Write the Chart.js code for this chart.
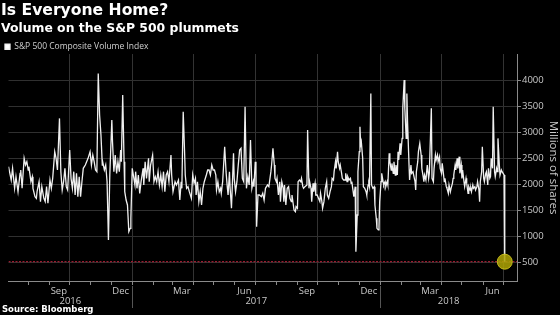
<!DOCTYPE html>
<html><head><meta charset="utf-8">
<script src="https://cdn.jsdelivr.net/npm/chart.js@4.4.1/dist/chart.umd.min.js"></script>
<style>
html,body{margin:0;padding:0;background:#000;}
#wrap{position:relative;width:560px;height:315px;background:#000;overflow:hidden;}
#c{position:absolute;left:0;top:0;}
.t{position:absolute;left:1px;color:#fff;font-family:"DejaVu Sans",sans-serif;font-weight:bold;white-space:nowrap;line-height:1;}
#title{top:3px;font-size:15.6px;}
#sub{top:21.5px;font-size:12.4px;}
#src{top:305px;left:2px;font-size:8.5px;}
</style></head><body>
<div id="wrap">
<canvas id="c" width="560" height="315"></canvas>
<div id="title" class="t">Is Everyone Home?</div>
<div id="sub" class="t">Volume on the S&amp;P 500 plummets</div>
<div id="src" class="t">Source: Bloomberg</div>
</div>
<script>
// day numbers are days since baseDate
const baseDate = '2016-07-01';
const seriesName = 'S&P 500 Composite Volume Index';
const days = [2,6,8,11,13,16,19,20,22,25,27,29,31,32,35,37,38,41,43,44,47,49,51,54,56,58,60,63,65,67,70,72,74,77,79,81,83,85,87,89,92,94,96,98,100,102,104,106,108,110,112,115,119,122,124,126,
128,130,132,134,136,138,140,141,143,145,147,149,151,154,155,157,159,161,163,165,167,168,170,172,173,175,177,179,181,182,184,186,188,189,191,193,195,197,200,201,203,205,208,209,211,214,216,218,220,222,224,226,228,230,232,234,236,238,241,242,244,247,249,
251,252,254,256,257,259,261,262,264,266,268,271,273,275,277,278,280,282,284,286,288,290,293,295,297,299,301,303,305,307,308,310,312,314,315,317,320,322,324,325,327,328,330,333,334,336,338,340,342,344,346,348,350,352,354,356,358,360,362,363,365,366,367,369,371,374,
376,378,380,383,385,388,389,391,393,394,396,397,399,401,402,404,406,407,408,410,412,414,416,418,419,421,422,424,425,427,428,430,432,433,435,436,438,441,442,444,445,447,448,450,451,453,454,456,458,460,461,463,464,466,468,470,471,473,475,477,478,480,481,483,484,486,487,489,490,492,493,495,497,
498,500,501,503,505,506,507,509,510,512,513,515,516,518,519,520,521,523,524,526,528,529,531,532,533,535,536,538,540,541,543,544,546,547,548,550,551,553,554,556,557,559,560,562,563,565,566,568,569,571,572,574,575,576,578,579,581,582,584,585,587,588,589,591,592,594,595,597,598,600,601,602,604,605,607,609,610,612,613,614,616,
618,620,621,624,625,627,628,630,631,633,634,636,637,639,640,642,643,644,646,647,649,650,652,653,655,656,657,659,660,662,663,665,666,668,669,670,672,673,675,676,678,679,681,682,683,685,686,688,689,691,692,694,695,696,698,699,701,702,704,705,707,708,710,711,712,714,715,717,718,720,721,722,724,725,727,728,731,732];
const volume = [2341,2085,2309,1926,2149,1862,2213,2277,1926,2500,2373,2436,2277,2341,2053,2149,1926,1766,1734,1862,2053,1671,1958,1734,1671,1958,1639,2085,1926,2117,2628,2500,2277,3266,2245,1894,2053,2309,1958,1894,2660,2117,1926,2245,1798,2213,1766,2149,1766,2053,2309,2373,2500,2628,2373,2564,
2436,2277,2245,4128,3330,2947,2373,2404,2277,2373,2053,936,2181,3234,2819,2245,2564,2213,2436,2245,2660,2436,3713,2436,1862,1702,1607,1096,1160,1351,2309,2149,1990,2245,1926,2181,1830,2053,2309,1990,2436,2117,2500,2053,2373,2564,2053,2149,2053,2245,1990,2181,1958,2245,1862,2181,2245,2053,2564,2181,1862,2053,1990,
2053,2085,1702,2053,1926,3394,2628,2181,1926,1958,1862,1734,2181,2022,2117,1798,2053,1671,1862,1607,1926,2053,2181,2277,2277,2181,2373,2277,2277,2181,1894,2053,1862,1926,1830,2053,2724,2245,1926,1798,2245,1926,1543,2596,2117,1862,2053,2373,2660,2692,2117,2053,3490,1926,2149,1990,2851,1926,2053,1958,2436,2245,1192,1798,1798,1766,
1830,1702,1926,1990,1958,2245,2373,2692,2373,2117,2053,2117,1798,2053,1671,2053,1926,1671,1990,1607,1926,1958,1734,1671,1798,1607,1511,1479,1575,1543,2053,2085,2053,2117,1958,1926,1958,1990,3043,1926,2053,1926,1671,2022,1862,2022,1798,1798,1734,1671,1830,1671,1543,1671,1926,2053,1798,1734,1862,1958,2117,2085,2245,2436,2309,2628,2436,2309,2373,2213,2117,2085,2085,
2213,2053,2149,2085,2117,2022,2053,1862,1766,1958,713,1415,2245,2628,3107,2756,2819,2500,1958,1926,1862,1798,1990,2022,1958,3745,1990,1926,1958,1607,1351,1160,1128,1192,1671,2053,2213,2053,1990,2053,1958,2053,1990,2596,2436,2277,2404,2213,2436,2181,2373,2181,2628,2468,2787,2564,2883,3458,4000,3458,2883,3745,3202,2436,2085,2373,2213,2245,2181,2053,1894,2245,2436,2628,2787,2564,2309,2149,2053,2181,2085,
2373,2117,2213,3458,2117,2053,2309,2564,2468,2564,2436,2532,2309,2213,2404,2181,2053,2117,1958,1926,1830,1990,1862,1926,2022,2117,2181,2373,2277,2500,2309,2532,2213,2373,2117,2277,2053,1958,2117,2022,1830,1958,1894,1926,1862,1990,1926,1958,1894,1958,2053,1894,1671,2053,2245,2724,2117,2053,2213,2245,1990,2309,2117,2149,2500,2309,3490,2245,2149,2309,2245,2883,2373,2181,2277,2245,2181,520];
const yTicks = [500,1000,1500,2000,2500,3000,3500,4000];
const monthLabels = ['Sep','Dec','Mar','Jun','Sep','Dec','Mar','Jun'];
const monthLabelDates = ['2016-09-15','2016-12-15','2017-03-15','2017-06-15','2017-09-15','2017-12-15','2018-03-15','2018-06-15'];
const yearLabels = ['2016','2017','2018'];
const xRange = ['2016-07-03','2018-07-21'];
const yRange = [150,4500];

const dayOf = s => Math.round((Date.parse(s) - Date.parse(baseDate)) / 86400000);
const xMin = dayOf(xRange[0]), xMax = dayOf(xRange[1]);

const monthStarts = [], quarterStarts = new Set(), yearStarts = [];
for (let y = 2016; y <= 2018; y++) {
  for (let m = 1; m <= 12; m++) {
    const s = y + '-' + String(m).padStart(2,'0') + '-01';
    const d = dayOf(s);
    if (d <= xMin || d >= xMax) continue;
    monthStarts.push(d);
    if ((m - 1) % 3 === 0) quarterStarts.add(d);
    if (m === 1) yearStarts.push(d);
  }
}
const labelByDay = new Map(monthLabelDates.map((s,i) => [dayOf(s), monthLabels[i]]));
const xTickValues = monthStarts.concat([...labelByDay.keys()]).sort((a,b)=>a-b);

const yearByDay = new Map();
yearLabels.forEach(yl => {
  const a = Math.max(xMin, dayOf(yl + '-01-01'));
  const b = Math.min(xMax, dayOf((+yl + 1) + '-01-01'));
  yearByDay.set((a + b) / 2, yl);
});

const lastIdx = volume.length - 1;
const lastPoint = {x: days[lastIdx], y: volume[lastIdx]};

const sepPlugin = {
  id: 'yearSep',
  afterDraw(chart) {
    const x = chart.scales.x, x2 = chart.scales.x2, ctx = chart.ctx;
    ctx.save();
    ctx.strokeStyle = '#555';
    ctx.lineWidth = 1;
    yearStarts.forEach(d => {
      const px = Math.round(x.getPixelForValue(d)) + 0.5;
      ctx.beginPath();
      ctx.moveTo(px, x.top + 5);
      ctx.lineTo(px, x2.bottom);
      ctx.stroke();
    });
    ctx.restore();
  }
};

Chart.defaults.font.family = 'Open Sans';
new Chart(document.getElementById('c'), {
  type: 'line',
  data: {
    datasets: [
      {label: seriesName, data: days.map((d,i)=>({x:d, y:volume[i]})), borderColor:'#f0f0f0', backgroundColor:'#ffffff',
       borderWidth:1.3, pointRadius:0, tension:0, order:1},
      {label:'level', data:[{x:xMin, y:lastPoint.y},{x:xMax, y:lastPoint.y}], borderColor:'#9a1c30', borderWidth:1.2,
       borderDash:[2,1.5], pointRadius:0, order:2},
      {label:'marker', data:[lastPoint], showLine:false, pointRadius:7.5, pointBackgroundColor:'rgba(175,165,5,0.85)',
       pointBorderColor:'rgba(205,195,30,0.9)', pointBorderWidth:1, order:0}
    ]
  },
  options: {
    responsive:false, animation:false,
    layout:{padding:{top:37.5, right:0, bottom:7, left:0}},
    plugins:{
      legend:{display:true, position:'top', align:'start', maxHeight:16.5,
        labels:{boxWidth:5, boxHeight:5, padding:5, color:'#d0d0d0', font:{family:'Open Sans', size:8.5},
          filter: item => item.datasetIndex === 0}},
      tooltip:{enabled:false}
    },
    scales:{
      x:{type:'linear', position:'bottom', min:xMin, max:xMax,
        afterBuildTicks: s => { s.ticks = xTickValues.map(v=>({value:v})); },
        afterFit: s => { s.height = 15; },
        ticks:{autoSkip:false, maxRotation:0, minRotation:0, padding:1, color:'#c8c8c8', font:{size:9.5},
          callback: v => labelByDay.get(v) || ''},
        grid:{color: c => (c.tick && quarterStarts.has(c.tick.value)) ? '#333333' : 'rgba(0,0,0,0)',
          tickColor: c => (c.tick && labelByDay.has(c.tick.value)) ? 'rgba(0,0,0,0)' : '#8a8a8a',
          tickLength:4, lineWidth:1},
        border:{color:'#8a8a8a'}
      },
      x2:{type:'linear', position:'bottom', min:xMin, max:xMax,
        afterBuildTicks: s => { s.ticks = [...yearByDay.keys()].map(v=>({value:v})); },
        afterFit: s => { s.height = 12; },
        ticks:{autoSkip:false, maxRotation:0, minRotation:0, padding:0, color:'#c8c8c8', font:{size:9.5},
          callback: v => yearByDay.get(v) || ''},
        grid:{display:false, drawTicks:false},
        border:{display:false}
      },
      y:{type:'linear', position:'right', min:yRange[0], max:yRange[1],
        afterBuildTicks: s => { s.ticks = yTicks.map(v=>({value:v})); },
        afterFit: s => { s.width = 43; },
        ticks:{color:'#c8c8c8', font:{size:9.5}, padding:1, callback: v => String(v)},
        grid:{color:'#303030', tickColor:'#8a8a8a', tickLength:4},
        border:{color:'#8a8a8a'},
        title:{display:true, text:'Millions of shares', color:'#c8c8c8', font:{size:11.5}, padding:0}
      }
    }
  },
  plugins:[sepPlugin]
});
</script>
</body></html>
